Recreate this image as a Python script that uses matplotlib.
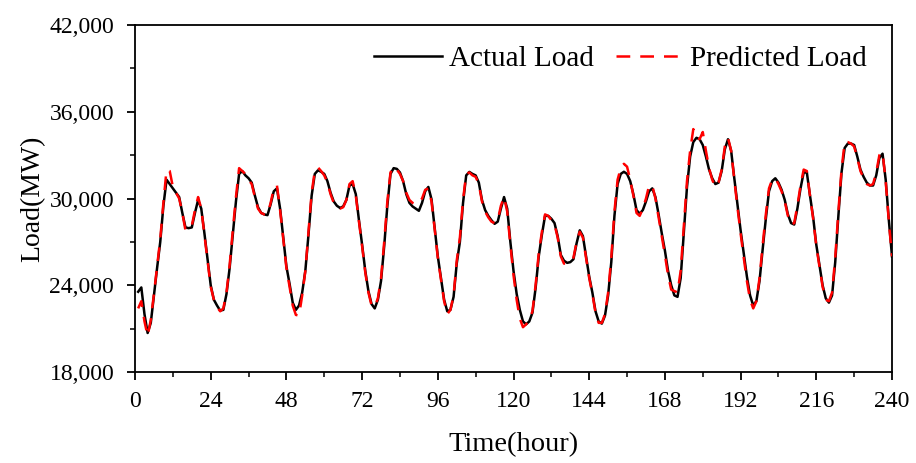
import numpy as np
import matplotlib
matplotlib.use("Agg")
import matplotlib.pyplot as plt
from matplotlib.ticker import MultipleLocator, FuncFormatter

# hourly load readings (MW), hours 1..240
hours = np.arange(1, 241)

actual_load = [
    23550, 23850, 22000, 20700, 21400, 23300, 25200, 27000, 29500, 31300,
    31000, 30700, 30400, 30100, 29000, 28000, 27950, 28000, 29000, 29900,
    29300, 27600, 25800, 24000, 23000, 22600, 22250, 22300, 23400, 25200,
    27500, 29800, 31700, 31900, 31600, 31400, 31100, 30200, 29400, 29000,
    28900, 28850, 29600, 30500, 30700, 29300, 27300, 25300, 24100, 22800,
    22300, 22600, 23500, 25000, 27500, 30200, 31700, 31950, 31850, 31700,
    31200, 30400, 29800, 29500, 29350, 29450, 29900, 30900, 31000, 30300,
    28500, 26800, 25000, 23600, 22700, 22400, 23000, 24300, 26700, 29500,
    31700, 32100, 32050, 31800, 31200, 30300, 29700, 29450, 29300, 29150,
    29700, 30500, 30800, 29950, 28000, 26000, 24500, 23000, 22200, 22300,
    23200, 25500, 27000, 29700, 31600, 31840, 31700, 31600, 31100, 29900,
    29200, 28800, 28500, 28250, 28400, 29300, 30100, 29300, 27000, 25000,
    23400, 22300, 21500, 21300, 21500, 22100, 23800, 26000, 27500, 28800,
    28800, 28600, 28300, 27400, 26100, 25700, 25550, 25600, 25800, 26900,
    27800, 27400, 26000, 24600, 23500, 22200, 21500, 21350, 21900, 23300,
    25600, 28800, 31000, 31700, 31850, 31700, 31200, 30300, 29200, 28950,
    29200, 29800, 30500, 30700, 30100, 28900, 27600, 26400, 25000, 24000,
    23300, 23200, 24500, 27700, 30800, 32900, 33900, 34200, 34100, 33700,
    32900, 32000, 31400, 31000, 31100, 31900, 33400, 34100, 33300, 31400,
    29600, 27800, 26200, 24600, 23300, 22600, 22900, 24300, 26500, 28600,
    30500, 31200, 31400, 31100, 30600, 29900, 28900, 28300, 28200, 29300,
    30700, 31800, 31800, 30200, 28700, 26800, 25400, 24000, 23100, 22800,
    23300, 25600, 28800, 31800, 33500, 33800, 33800, 33700, 32900, 32000,
    31500, 31100, 30900, 30900, 31600, 32800, 33100, 31300, 28500, 26000,
]

predicted_load = [
    22400, 22900, 21500, 20500, 21600, 23400, 25300, 27200, 29700, 32000,
    31900, 30800, 30400, 30000, 29000, 27800, 27950, 28100, 29200, 30100,
    29300, 27500, 25700, 23900, 23000, 22500, 22200, 22400, 23500, 25400,
    27800, 30100, 32100, 31900, 31700, 31300, 31000, 30100, 29300, 29000,
    28900, 28900, 29700, 30700, 30900, 29200, 27200, 25200, 23900, 22600,
    21950, 21900, 23300, 25000, 27700, 30400, 31900, 32150, 31900, 31600,
    31100, 30300, 29700, 29400, 29300, 29400, 29900, 31000, 31200, 30200,
    28400, 26700, 24900, 23500, 22600, 22500, 23100, 24500, 27000, 29800,
    31800, 32200, 32000, 31700, 31200, 30400, 29900, 29700, 29600, 29700,
    30000, 30600, 30700, 29800, 27900, 25900, 24400, 22900, 22000, 22300,
    23300, 25700, 27300, 29900, 31700, 31800, 31600, 31500, 31000, 29800,
    29100, 28700, 28400, 28300, 28500, 29500, 30100, 29100, 26800, 24700,
    23000, 21700, 21100, 21300, 21600, 22200, 24000, 26200, 27700, 28900,
    28800, 28500, 28200, 27300, 26000, 25500, 25500, 25600, 25900, 27000,
    27700, 27300, 25900, 24500, 23400, 22100, 21400, 21400, 22000, 23500,
    25900, 29100, 31300, 32100, 32400, 32200, 31300, 30200, 29000, 28800,
    29300, 30000, 30900, 30900, 30000, 28700, 27400, 26100, 24700, 23700,
    23600, 23500, 25000, 28100, 31200, 33300, 34800, 34200, 34100, 34600,
    33300, 32100, 31300, 30800, 31100, 32000, 33600, 34200, 33300, 31300,
    29400, 27600, 25900, 24300, 23000, 22400, 22900, 24500, 26800, 28900,
    30700, 31300, 31400, 31000, 30500, 29800, 28800, 28200, 28300, 29500,
    30900, 32000, 31900, 30200, 28600, 26700, 25300, 23900, 23000, 22900,
    23500, 25900, 29100, 32000, 33900, 33900, 33800, 33600, 32800, 31900,
    31400, 31000, 30900, 31000, 31800, 33000, 33200, 31200, 28400, 26000,
]

x_ticks = list(range(0, 241, 24))
y_ticks = list(range(18000, 42001, 6000))

plt.rcParams['font.family'] = ['Liberation Serif', 'DejaVu Serif']

fig = plt.figure(figsize=(9.16, 4.63), dpi=100)
ax = fig.add_axes([0.1474, 0.1965, 0.8264, 0.7495])

ax.plot(hours, actual_load, color='black', lw=1.8, label='Actual Load', zorder=2)
ax.plot(hours, predicted_load, color='red', lw=1.8, linestyle=(0, (5.5, 4)),
        label='Predicted Load', zorder=3)

ax.set_xlim(0, 240)
ax.set_ylim(18000, 42000)
ax.set_xticks(x_ticks)
ax.set_yticks(y_ticks)
ax.xaxis.set_minor_locator(MultipleLocator(12))
ax.yaxis.set_minor_locator(MultipleLocator(3000))
ax.yaxis.set_major_formatter(FuncFormatter(lambda v, p: f"{int(v):,}"))

ax.tick_params(axis='both', which='major', direction='out', length=6, width=1.3,
               labelsize=17)
ax.tick_params(axis='x', which='major', pad=8)
ax.tick_params(axis='y', which='major', pad=9)
ax.tick_params(axis='both', which='minor', direction='out', length=3.5, width=1.1)
for s in ax.spines.values():
    s.set_linewidth(1.3)

ax.set_xlabel('Time(hour)', fontsize=20.5, labelpad=14)
ax.set_ylabel('Load(MW)', fontsize=20, labelpad=3)

ax.legend(loc='center right', ncol=2, frameon=False, fontsize=21,
          handlelength=2.3, columnspacing=0.75, handletextpad=0.25,
          borderaxespad=0, bbox_to_anchor=(0.982, 0.902))

fig.savefig('out.png', dpi=100)
